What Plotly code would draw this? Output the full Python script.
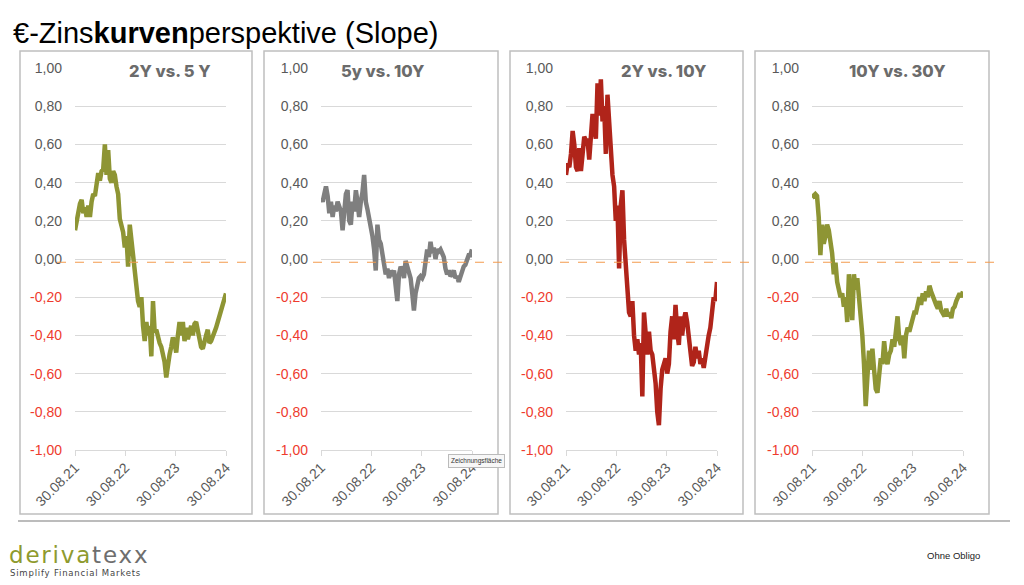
import plotly.graph_objects as go
import pandas as pd

W, H = 1024, 585

# ---------------- data ----------------
PANEL_TITLES = ["2Y vs. 5 Y", "5y vs. 10Y", "2Y vs. 10Y", "10Y vs. 30Y"]
START_DATE = "2021-08-30"
END_DATE = "2024-08-30"
X_TICK_DATES = ["2021-08-30", "2022-08-30", "2023-08-30", "2024-08-30"]
X_TICK_LABELS = ["30.08.21", "30.08.22", "30.08.23", "30.08.24"]
Y_TICK_VALUES = [1.0, 0.8, 0.6, 0.4, 0.2, 0.0, -0.2, -0.4, -0.6, -0.8, -1.0]
Y_TICK_LABELS = ["1,00", "0,80", "0,60", "0,40", "0,20", "0,00",
                 "-0,20", "-0,40", "-0,60", "-0,80", "-1,00"]

slope_2y_5y = [
    0.15, 0.20, 0.23, 0.29, 0.31, 0.24, 0.27, 0.22, 0.28, 0.22,
    0.30, 0.34, 0.33, 0.42, 0.45, 0.41, 0.46, 0.47, 0.60, 0.44,
    0.57, 0.42, 0.40, 0.46, 0.44, 0.38, 0.34, 0.21, 0.17, 0.14,
    0.06, 0.12, -0.04, 0.18, 0.10, 0.01, -0.06, -0.15, -0.22, -0.25,
    -0.20, -0.35, -0.43, -0.33, -0.40, -0.35, -0.51, -0.22, -0.38, -0.37,
    -0.42, -0.44, -0.46, -0.49, -0.54, -0.62, -0.55, -0.50, -0.46, -0.41,
    -0.44, -0.49, -0.40, -0.33, -0.40, -0.33, -0.43, -0.36, -0.42, -0.38,
    -0.35, -0.40, -0.34, -0.33, -0.38, -0.42, -0.46, -0.47, -0.42, -0.40,
    -0.37, -0.44, -0.43, -0.41, -0.38, -0.36, -0.33, -0.30, -0.28, -0.24,
    -0.21, -0.18]

slope_5y_10y = [
    0.32, 0.30, 0.34, 0.38, 0.33, 0.24, 0.30, 0.22, 0.28, 0.25, 0.30,
    0.28, 0.25, 0.15, 0.26, 0.34, 0.36, 0.20, 0.18, 0.30, 0.25,
    0.36, 0.30, 0.22, 0.30, 0.35, 0.44, 0.30, 0.26, 0.22, 0.18,
    0.12, 0.05, -0.06, 0.18, 0.10, 0.08, 0.02, -0.05, -0.08, -0.05,
    -0.10, -0.06, -0.09, -0.06, -0.12, -0.22, -0.08, -0.04, -0.06, -0.10,
    -0.01, -0.04, -0.06, -0.10, -0.18, -0.27, -0.18, -0.14, -0.10, -0.09,
    -0.10, -0.08, -0.02, 0.05, 0.01, 0.09, 0.03, 0.06, 0.00, 0.05,
    0.04, 0.05, 0.03, 0.01, -0.05, -0.08, -0.06, -0.09, -0.08, -0.06,
    -0.10, -0.09, -0.12, -0.09, -0.07, -0.04, -0.03, 0.00, 0.02, 0.02,
    0.05]

slope_2y_10y = [
    0.44, 0.50, 0.48, 0.55, 0.67, 0.60, 0.48, 0.46, 0.58, 0.46, 0.55,
    0.64, 0.62, 0.62, 0.52, 0.70, 0.76, 0.68, 0.63, 0.92, 0.75,
    0.94, 0.72, 0.80, 0.55, 0.86, 0.70, 0.55, 0.44, 0.38, 0.20,
    0.28, -0.05, 0.28, 0.36, 0.10, -0.02, -0.20, -0.28, -0.30, -0.22,
    -0.40, -0.48, -0.42, -0.50, -0.44, -0.72, -0.28, -0.40, -0.50, -0.38,
    -0.48, -0.50, -0.56, -0.65, -0.80, -0.87, -0.68, -0.58, -0.55, -0.52,
    -0.60, -0.55, -0.38, -0.30, -0.42, -0.24, -0.38, -0.45, -0.30, -0.40,
    -0.32, -0.28, -0.33, -0.40, -0.50, -0.56, -0.54, -0.46, -0.52, -0.48,
    -0.55, -0.52, -0.57, -0.50, -0.44, -0.40, -0.36, -0.30, -0.20, -0.22,
    -0.12]

slope_10y_30y = [
    0.34, 0.33, 0.34, 0.33, 0.22, 0.02, 0.18, 0.08, 0.12, 0.18,
    0.15, 0.10, 0.03, -0.08, -0.02, -0.12, -0.15, -0.20, -0.18, -0.25,
    -0.20, -0.33, -0.08, -0.20, -0.32, -0.08, -0.16, -0.10, -0.20, -0.25,
    -0.40, -0.55, -0.77, -0.62, -0.48, -0.58, -0.47, -0.58, -0.68, -0.70,
    -0.62, -0.52, -0.55, -0.43, -0.52, -0.55, -0.50, -0.48, -0.42, -0.46,
    -0.38, -0.30, -0.42, -0.45, -0.40, -0.52, -0.40, -0.36, -0.38, -0.34,
    -0.31, -0.28, -0.28, -0.25, -0.20, -0.24, -0.18, -0.22, -0.17, -0.20,
    -0.14, -0.17, -0.20, -0.22, -0.24, -0.26, -0.22, -0.27, -0.29, -0.30,
    -0.26, -0.30, -0.28, -0.31, -0.26, -0.25, -0.22, -0.20, -0.18, -0.20,
    -0.17]

SERIES = [slope_2y_5y, slope_5y_10y, slope_2y_10y, slope_10y_30y]

# ---------------- style / layout ----------------
LINE_COLORS = ["#8E9534", "#7F7F7F", "#B0241A", "#8E9534"]
GREY_TXT = "#595959"
RED_TXT = "#EE3B2E"
GRID = "#D9D9D9"

PLOT_LEFT = [75, 321, 566, 812]
PLOT_W = 151
PLOT_TOP, PLOT_BOTTOM = 68, 450
BOXES = [(20, 252), (264, 498), (510, 743), (755, 989)]
BOX_TOP, BOX_BOTTOM = 51, 514
DASHES = [(57, 247), (313, 508), (560, 752), (805, 997)]
TITLE_CX = [170, 383, 664, 897]
TITLE_MASK = [(117, 222), (330, 438), (615, 720), (837, 957)]
REF_LEVEL = -0.017


def px(x):
    return x / W


def py(y):
    return 1 - y / H


ytext = []
for v, lab in zip(Y_TICK_VALUES, Y_TICK_LABELS):
    col = RED_TXT if v < 0 else GREY_TXT
    ytext.append(f"<span style='color:{col}'>{lab}</span>")

fig = go.Figure()
layout = dict(
    width=W, height=H,
    margin=dict(l=0, r=0, t=0, b=0, pad=0, autoexpand=False),
    autosize=False,
    paper_bgcolor="white", plot_bgcolor="white", showlegend=False,
    font=dict(family="Liberation Sans, Arial", color=GREY_TXT),
)
shapes = []
annotations = []

for i, vals in enumerate(SERIES):
    n = "" if i == 0 else str(i + 1)
    dates = pd.date_range(START_DATE, END_DATE, periods=len(vals))
    fig.add_trace(go.Scatter(
        x=dates, y=vals, xaxis=f"x{n}", yaxis=f"y{n}", mode="lines",
        line=dict(color=LINE_COLORS[i], width=4.5), hoverinfo="skip",
        showlegend=False))
    layout[f"xaxis{n}"] = dict(
        domain=[px(PLOT_LEFT[i]), px(PLOT_LEFT[i] + PLOT_W)],
        anchor=f"y{n}", type="date", range=[START_DATE, END_DATE],
        tickmode="array", tickvals=X_TICK_DATES, ticktext=X_TICK_LABELS,
        tickangle=-45, showgrid=False, zeroline=False, automargin=False,
        showline=True, linecolor=GRID, linewidth=1,
        ticks="outside", ticklen=5, tickcolor=GRID, ticklabelstandoff=-2,
        tickfont=dict(family="Liberation Sans, Arial", size=14, color=GREY_TXT),
        fixedrange=True)
    layout[f"yaxis{n}"] = dict(
        domain=[py(PLOT_BOTTOM), py(PLOT_TOP)], anchor=f"x{n}",
        range=[-1, 1], tickmode="array", tickvals=Y_TICK_VALUES,
        ticktext=ytext, showgrid=True, gridcolor=GRID, gridwidth=1,
        zeroline=False, showline=False, ticks="", automargin=False,
        ticklabelstandoff=12,
        tickfont=dict(family="Liberation Sans, Arial", size=14, color=GREY_TXT),
        fixedrange=True)

    # panel frame
    bx0, bx1 = BOXES[i]
    shapes.append(dict(type="rect", xref="paper", yref="paper",
                       x0=px(bx0), x1=px(bx1), y0=py(BOX_BOTTOM), y1=py(BOX_TOP),
                       line=dict(color="#BFBFBF", width=1.5), layer="above"))
    # dashed reference line
    d0, d1 = DASHES[i]
    shapes.append(dict(type="line", xref="paper", yref=f"y{n}",
                       x0=px(d0), x1=px(d1), y0=REF_LEVEL, y1=REF_LEVEL,
                       line=dict(color="#F39B4E", width=1.2, dash="dash"),
                       layer="above"))
    # white mask behind panel title
    m0, m1 = TITLE_MASK[i]
    shapes.append(dict(type="rect", xref="paper", yref="paper",
                       x0=px(m0), x1=px(m1), y0=py(77), y1=py(61),
                       fillcolor="white", line=dict(width=0), layer="above"))
    annotations.append(dict(
        x=px(TITLE_CX[i]), y=py(71), xref="paper", yref="paper",
        xanchor="center", yanchor="middle", showarrow=False,
        text=PANEL_TITLES[i],
        font=dict(family="Inter", size=16.5, color="#6B6B6B", weight=800)))

# bottom separator
shapes.append(dict(type="line", xref="paper", yref="paper",
                   x0=px(18), x1=px(1010), y0=py(521), y1=py(521),
                   line=dict(color="#A6A6A6", width=1.5)))

# main title
annotations.append(dict(
    x=px(11), y=py(33), xref="paper", yref="paper", xanchor="left",
    yanchor="middle", showarrow=False,
    text="€-Zins<b>kurven</b>perspektive (Slope)",
    font=dict(family="Liberation Sans, Arial", size=29, color="#000000")))

# logo
annotations.append(dict(
    x=px(7), y=py(555), xref="paper", yref="paper", xanchor="left",
    yanchor="middle", showarrow=False,
    text=("<span style='letter-spacing:1.8px;color:#8E9A2E'>deriva</span>"
          "<span style='letter-spacing:1.8px;color:#6E6E6E'>texx</span>"),
    font=dict(family="DejaVu Sans", size=23)))
annotations.append(dict(
    x=px(8), y=py(573), xref="paper", yref="paper", xanchor="left",
    yanchor="middle", showarrow=False,
    text="<span style='letter-spacing:0.8px'>Simplify Financial Markets</span>",
    font=dict(family="DejaVu Sans", size=8.5, color="#444444")))

annotations.append(dict(
    x=px(925), y=py(555), xref="paper", yref="paper", xanchor="left",
    yanchor="middle", showarrow=False, text="Ohne Obligo",
    font=dict(family="Liberation Sans, Arial", size=9.5, color="#222222")))

# tooltip artefact
annotations.append(dict(
    x=px(476), y=py(461), xref="paper", yref="paper", xanchor="center",
    yanchor="middle", showarrow=False, text="Zeichnungsfläche",
    font=dict(family="Liberation Sans, Arial", size=6.5, color="#333333"),
    bgcolor="#F7F7F7", bordercolor="#BBBBBB", borderwidth=1, borderpad=2))

layout["shapes"] = shapes
layout["annotations"] = annotations
fig.update_layout(**layout)

fig.write_html(
    "out.html",
    config={"displayModeBar": False},
    post_script="document.body.style.margin='0';document.body.style.overflow='hidden';",
)
